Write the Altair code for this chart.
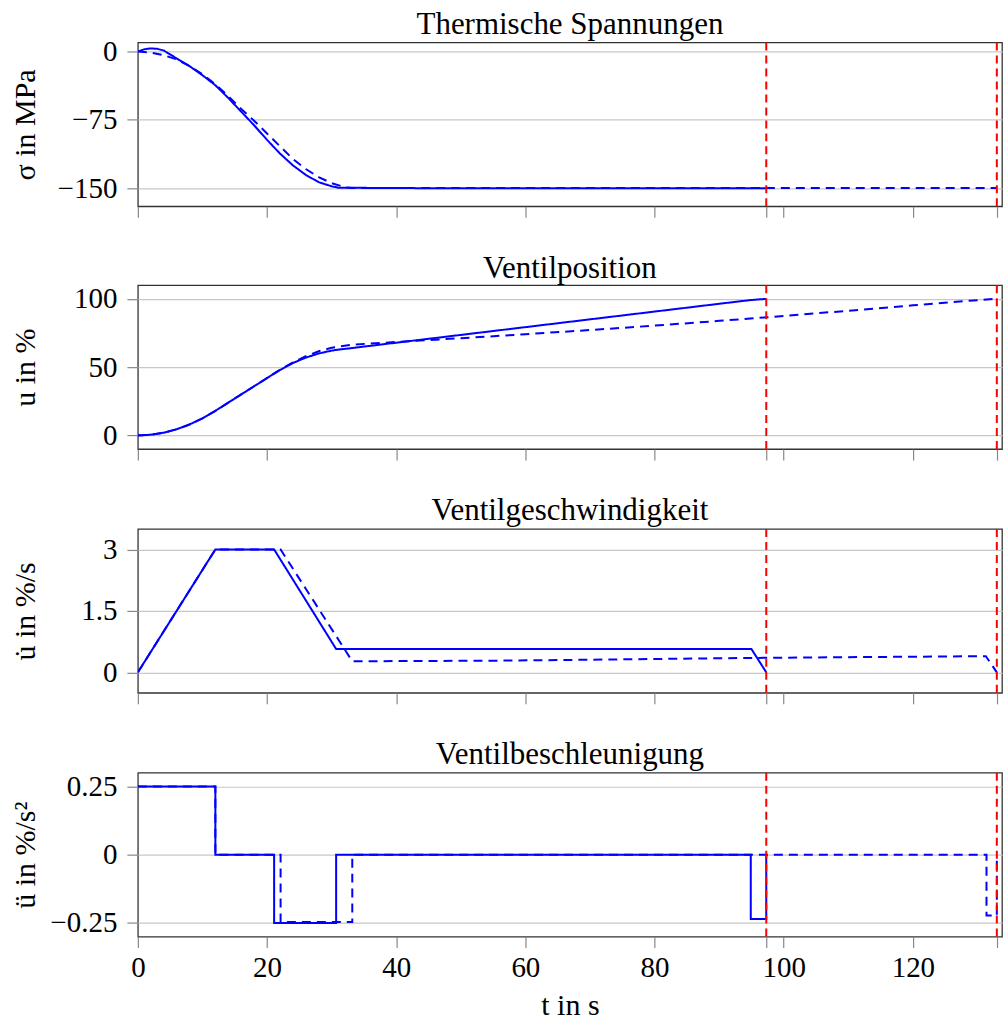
import altair as alt
import pandas as pd

FONT = "Liberation Serif"
BLUE = "#0000ff"
RED = "#ff0000"

T_MAX = 133.8
RED_T = [97.3, 133.0]
X_TICKS = [0, 20, 40, 60, 80, 100, 120]

# Panel 1: Thermische Spannungen (sigma in MPa)
sig_t_solid = [0, 1, 2, 3, 4, 6, 8, 10, 12, 14, 16, 18, 20, 22, 24, 26, 28, 30, 31, 40, 60, 80, 97.3]
sig_solid = [0, 2.5, 3.5, 3, 1.2, -7.5, -16, -26, -37, -51, -66, -81, -97, -112, -125, -135.5, -143.5, -148, -149.5, -150, -150.2, -150.3, -150.3]
sig_t_dashed = [0, 2, 4, 6, 8, 10, 12, 14, 16, 18, 20, 22, 24, 26, 28, 30, 32, 33.2, 60, 97.3, 133.0]
sig_dashed = [0, -1, -4, -8.5, -16, -25, -36, -49, -63, -76, -90, -104, -118, -129, -138, -144.5, -149, -150, -150, -150, -150]

# Panel 2: Ventilposition (u in %)
u_t_solid = [0, 2, 4, 6, 8, 10, 12, 14, 16, 18, 20, 21.1, 22, 24, 26, 28, 30, 30.7, 40, 50, 60, 70, 80, 90, 95, 97.3]
u_solid = [0, 0.5, 2, 4.5, 8, 12.5, 18, 24, 30, 36, 42, 45.3, 47.9, 53, 57, 60, 62.1, 62.6, 67.9, 73.6, 79.3, 85, 90.7, 96.4, 99.2, 100]
u_t_dashed = [0, 2, 4, 6, 8, 10, 12, 14, 16, 18, 20, 22.1, 24, 26, 28, 30, 33.2, 40, 50, 60, 70, 80, 90, 97.3, 110, 120, 131.4, 133.0]
u_dashed = [0, 0.5, 2, 4.5, 8, 12.5, 18, 24, 30, 36, 42, 48.3, 53.4, 58, 61.6, 64.2, 66.5, 68.4, 71.2, 74.1, 77.2, 80.4, 83.9, 86.5, 91.3, 95.3, 99.6, 100]

# Panel 3: Ventilgeschwindigkeit (u dot in %/s)
v_t_solid = [0, 12, 21.1, 30.7, 95.0, 97.3]
v_solid = [0, 3, 3, 0.57, 0.57, 0]
v_t_dashed = [0, 12, 22.1, 33.2, 56, 97.3, 131.3, 133.0]
v_dashed = [0, 3, 3, 0.27, 0.285, 0.355, 0.395, 0]

# Panel 4: Ventilbeschleunigung (u ddot in %/s^2), piecewise constant
a_t_solid = [0, 12, 21.1, 30.7, 94.9, 97.3]
a_solid = [0.25, 0, -0.25, 0, -0.236, 0]
a_t_dashed = [0, 12, 22.1, 33.2, 131.4, 133.0]
a_dashed = [0.25, 0, -0.247, 0, -0.223, 0]


def frame(ts, vs, tds, vds):
    return pd.concat([
        pd.DataFrame({"t": ts, "v": vs, "series": "solid"}),
        pd.DataFrame({"t": tds, "v": vds, "series": "dashed"}),
    ], ignore_index=True)


red_df = pd.DataFrame({"t": RED_T})


def panel(title, ytitle, df, ydomain, yticks, interp, show_x, toffset):
    x_axis = alt.Axis(
        values=X_TICKS + RED_T,
        labels=show_x,
        grid=False,
        domain=False,
        tickSize=11,
        labelExpr="datum.value % 20 == 0 ? datum.label : ''",
        labelOverlap=False,
        labelFlush=False,
        labelPadding=6,
        titlePadding=8,
        format=".6~g",
    )
    if show_x:
        xenc = alt.X("t:Q", title="t in s", scale=alt.Scale(domain=[0, T_MAX], nice=False, zero=False), axis=x_axis)
    else:
        xenc = alt.X("t:Q", title=None, scale=alt.Scale(domain=[0, T_MAX], nice=False, zero=False), axis=x_axis)
    yenc = alt.Y(
        "v:Q",
        title=ytitle,
        scale=alt.Scale(domain=ydomain, nice=False, zero=False),
        axis=alt.Axis(
            values=yticks,
            format=".6~g",
            grid=True,
            domain=False,
            tickSize=11,
            labelPadding=10,
            labelFlush=False,
            titleX=-112,
            titleBaseline="middle",
        ),
    )
    lines = alt.Chart(df).mark_line(strokeWidth=2, interpolate=interp, clip=True).encode(
        x=xenc,
        y=yenc,
        color=alt.value(BLUE),
        strokeDash=alt.StrokeDash(
            "series:N",
            scale=alt.Scale(domain=["solid", "dashed"], range=[[1, 0], [9, 6]]),
            legend=None,
        ),
    )
    rules = alt.Chart(red_df).mark_rule(color=RED, strokeWidth=2, strokeDash=[8, 5]).encode(
        x=alt.X("t:Q")
    )
    return alt.layer(lines, rules).properties(
        width=865,
        height=164,
        title=alt.TitleParams(
            title, font=FONT, fontSize=31, fontWeight="normal", color="black",
            baseline="alphabetic", offset=toffset, anchor="middle",
        ),
    )


p1 = panel("Thermische Spannungen", "σ in MPa",
           frame(sig_t_solid, sig_solid, sig_t_dashed, sig_dashed),
           [-170, 10], [-150, -75, 0], "linear", False, -27)
p2 = panel("Ventilposition", "u in %",
           frame(u_t_solid, u_solid, u_t_dashed, u_dashed),
           [-10, 110], [0, 50, 100], "linear", False, -24.5)
p3 = panel("Ventilgeschwindigkeit", "u\u0307 in %/s",
           frame(v_t_solid, v_solid, v_t_dashed, v_dashed),
           [-0.5, 3.5], [0, 1.5, 3], "linear", False, -23.5)
p4 = panel("Ventilbeschleunigung", "ü in %/s²",
           frame(a_t_solid, a_solid, a_t_dashed, a_dashed),
           [-0.3, 0.3], [-0.25, 0, 0.25], "step-after", True, -23.5)

chart = alt.vconcat(p1, p2, p3, p4, spacing=32).properties(
    padding={"left": 10, "top": 7, "right": 0, "bottom": 0},
    background="white",
).configure_axis(
    labelFont=FONT, labelFontSize=29, labelColor="black",
    titleFont=FONT, titleFontSize=30, titleFontWeight="normal", titleColor="black",
    tickColor="#888888", tickWidth=1.2, gridColor="#c8c8c8", gridWidth=1.2,
).configure_view(
    stroke="#333333", strokeWidth=1.3
)

chart.save("out.html", embed_options={"renderer": "svg", "actions": False})
